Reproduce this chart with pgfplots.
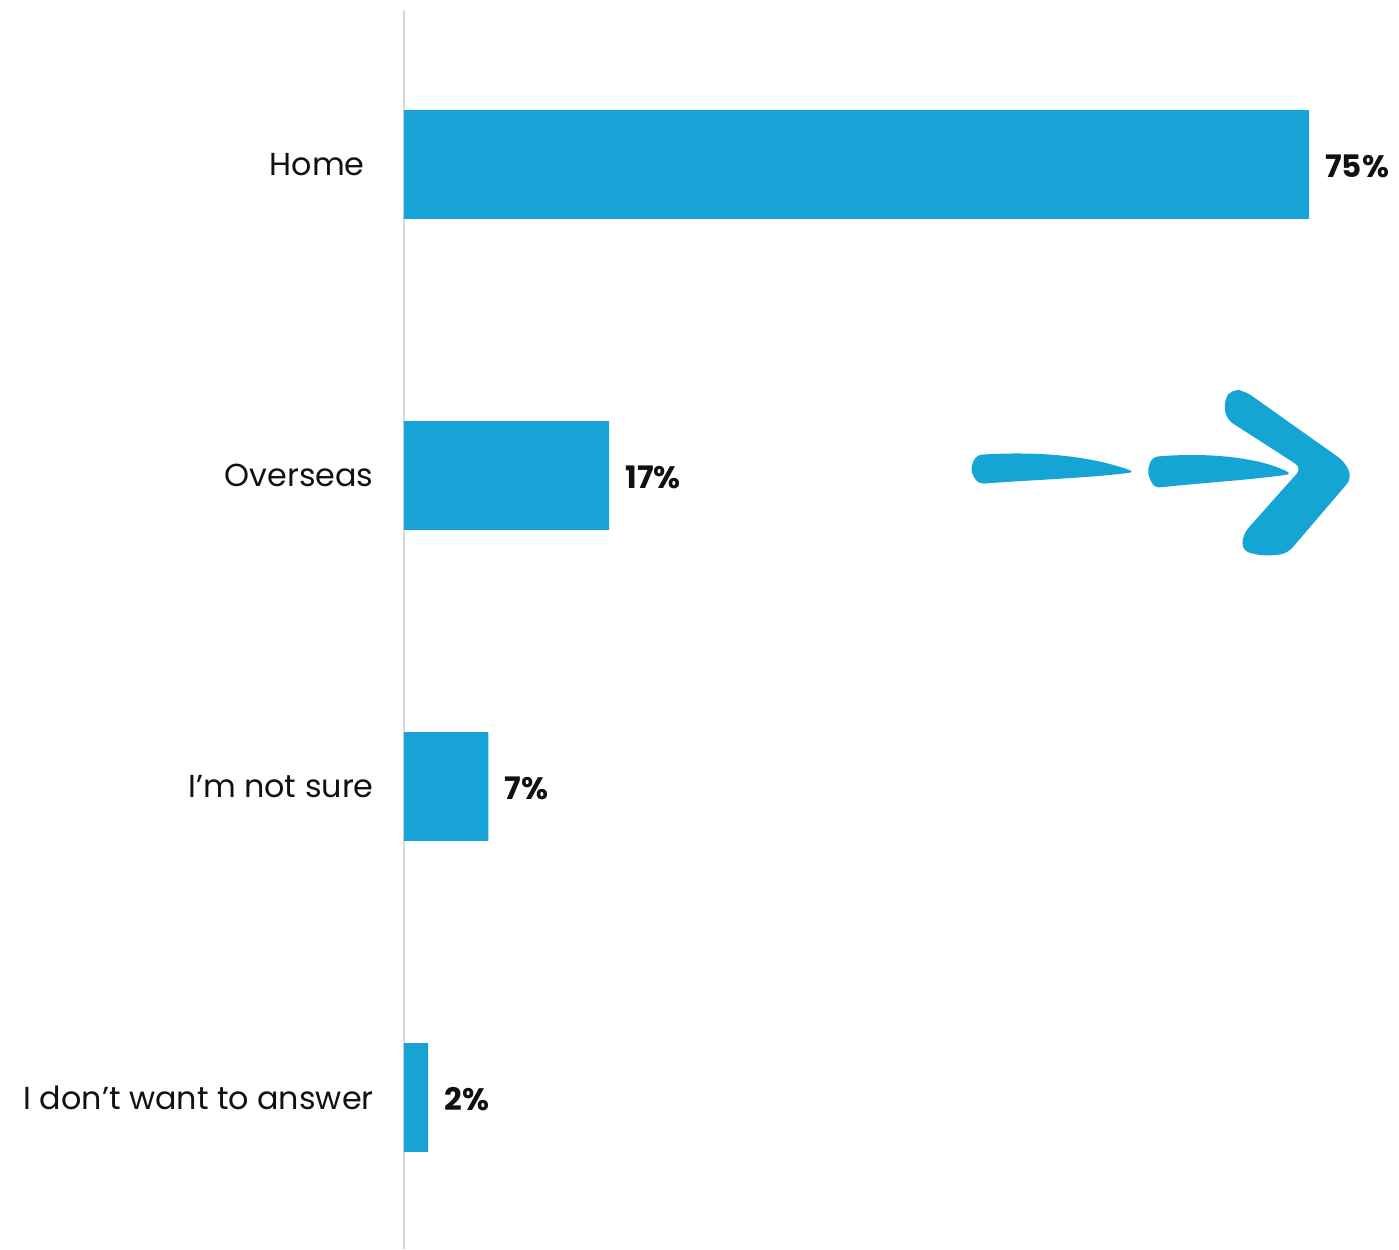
\documentclass[border=0pt]{standalone}
\usepackage{pgfplots}
\pgfplotsset{compat=1.18}
\usepackage{fontspec}
\setmainfont{Poppins}
\definecolor{barblue}{HTML}{17A3D6}
\definecolor{arrowblue}{HTML}{14A5D5}
\definecolor{txt}{HTML}{111111}
\definecolor{axgray}{HTML}{D9D9D9}
\begin{document}
\begin{tikzpicture}
\path[use as bounding box] (0,0) rectangle (699.5pt,624.5pt);
\begin{axis}[
  at={(202pt,0pt)}, anchor=south west,
  scale only axis, width=452.5pt, height=619.5pt,
  xmin=0, xmax=75, ymin=-0.487, ymax=3.497,
  xbar, bar width=0.35,
  hide x axis,
  axis y line*=left,
  y axis line style={draw=axgray, line width=1pt, -},
  ytick={0,1,2,3},
  yticklabels={I don't want to answer, I’m not sure, Overseas, Home\rule{4.5pt}{0pt}},
  major tick length=0pt,
  yticklabel style={font=\fontsize{15.9}{19}\selectfont, text=txt, inner sep=0pt, anchor=east, xshift=-15pt},
  clip=false,
  /pgf/number format/assume math mode=true,
  nodes near coords={\pgfmathprintnumber{\pgfplotspointmeta}\%},
  nodes near coords style={font=\fontsize{15.5}{18}\selectfont\bfseries, text=txt, anchor=west, inner sep=0pt, xshift=8pt, yshift=-1pt},
]
\addplot[fill=barblue, draw=none] coordinates {(2,0) (7,1) (17,2) (75,3)};
\end{axis}
\begin{scope}[x=0.5pt, y=-0.5pt, shift={(0pt,624.5pt)}]
\fill[arrowblue, rounded corners=3pt] (976,455) .. controls (1040,451) and (1090,456) .. (1135,472)
  .. controls (1090,478) and (1030,480) .. (978,484) -- (970,470) -- cycle;
\fill[arrowblue, rounded corners=3pt] (1152,457) .. controls (1210,452) and (1260,458) .. (1292,474)
  .. controls (1250,480) and (1200,483) .. (1154,488) -- (1147,472) -- cycle;
\fill[arrowblue, rounded corners=4pt] (1224,400) -- (1232,389) -- (1245,391) -- (1345,462) -- (1352,478)
  -- (1287,554) -- (1263,556) -- (1242,551) -- (1243,534) -- (1292,479) -- (1302,468) -- (1226,419) -- cycle;
\end{scope}
\end{tikzpicture}
\end{document}
